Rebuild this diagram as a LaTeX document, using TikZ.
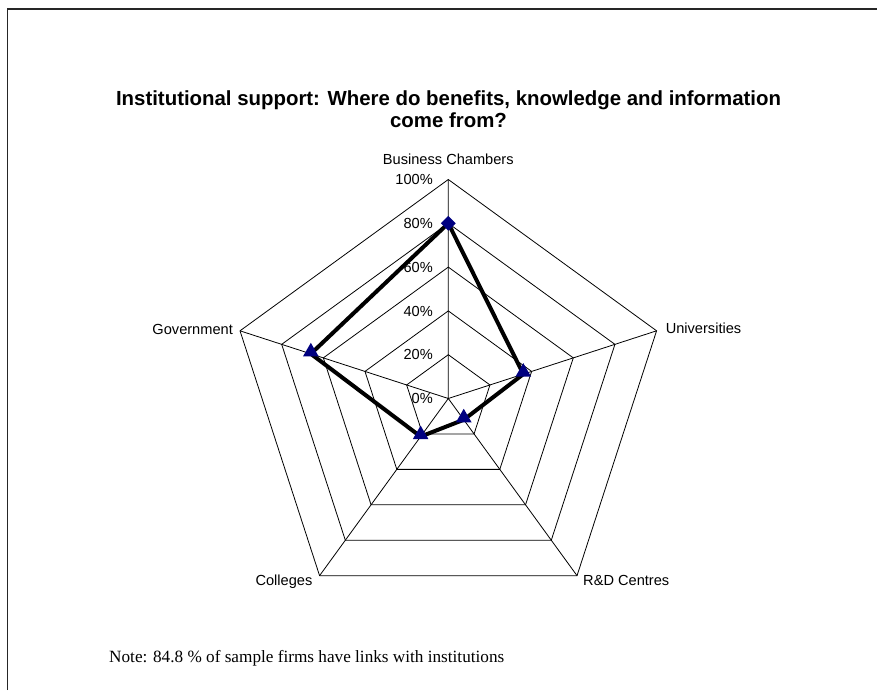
\documentclass[tikz,border=0pt]{standalone}
\usepackage{fontspec}
\setmainfont{Liberation Sans}
\newfontfamily\notefont{Liberation Serif}
\usepackage{xcolor}
\usepackage{tikz}
\usetikzlibrary{shapes.geometric}
\definecolor{navyblue}{RGB}{0,0,128}
\tikzset{%
  gridline/.style={draw=black, line width=0.8pt},
  frameline/.style={draw=black!85, line width=1.3pt},
  axislabel/.style={inner sep=0pt, font=\fontsize{14.6}{17}\selectfont},
  ticklabel/.style={anchor=base east, inner sep=0pt, xshift=-15.3pt, yshift=-5.3pt, font=\fontsize{14.6}{17}\selectfont},
  series/.style={draw=black, line width=4pt, line join=round},
  trimark/.style={regular polygon, regular polygon sides=3, fill=navyblue, inner sep=0pt, minimum size=18pt, yshift=2pt},
  diamark/.style={diamond, fill=navyblue, inner sep=0pt, minimum width=15pt, minimum height=15pt}
}

\begin{document}
\begin{tikzpicture}[x=1pt, y=1pt]
  \useasboundingbox (0,0) rectangle (877,690);
  \draw [frameline] (7.5,0) -- (7.5,681) -- (877,681);

  \node [align=center, font=\bfseries\fontsize{20.4}{22}\selectfont] (title) at (448.5,581)
        {Institutional support: Where do benefits, knowledge and information\\come from?};
  \node [anchor=west, inner sep=0pt, font=\notefont\fontsize{17.2}{20}\selectfont] (note) at (109,32)
        {Note: 84.8 \% of sample firms have links with institutions};

  \begin{scope}[shift={(448.3pt,291.5pt)}, x=2.19pt, y=2.19pt]
    % rings
    \draw [gridline] (90:20) -- (18:20) -- (-54:20) -- (-126:20) -- (162:20) -- cycle;
    \draw [gridline] (90:40) -- (18:40) -- (-54:40) -- (-126:40) -- (162:40) -- cycle;
    \draw [gridline] (90:60) -- (18:60) -- (-54:60) -- (-126:60) -- (162:60) -- cycle;
    \draw [gridline] (90:80) -- (18:80) -- (-54:80) -- (-126:80) -- (162:80) -- cycle;
    \draw [gridline] (90:100) -- (18:100) -- (-54:100) -- (-126:100) -- (162:100) -- cycle;
    % spokes
    \draw [gridline] (0,0) -- (90:100) (0,0) -- (18:100) (0,0) -- (-54:100)
                     (0,0) -- (-126:100) (0,0) -- (162:100);

    \node [ticklabel] (t0)   at (90:0)   {0\%};
    \node [ticklabel] (t20)  at (90:20)  {20\%};
    \node [ticklabel] (t40)  at (90:40)  {40\%};
    \node [ticklabel] (t60)  at (90:60)  {60\%};
    \node [ticklabel] (t80)  at (90:80)  {80\%};
    \node [ticklabel] (t100) at (90:100) {100\%};

    \node [axislabel, anchor=base, yshift=15pt]                  (bc)  at (90:100)   {Business Chambers};
    \node [axislabel, anchor=base west, xshift=9pt, yshift=-3.1pt] (uni) at (18:100)   {Universities};
    \node [axislabel, anchor=base west, xshift=6pt, yshift=-10.3pt] (rdc) at (-54:100)  {R\&D Centres};
    \node [axislabel, anchor=base east, xshift=-7pt, yshift=-10.3pt] (col) at (-126:100) {Colleges};
    \node [axislabel, anchor=base east, xshift=-7pt, yshift=-3.3pt] (gov) at (162:100)  {Government};

    % series
    \coordinate (vbc)  at (90:80);
    \coordinate (vuni) at (18:36);
    \coordinate (vrdc) at (-54:12);
    \coordinate (vcol) at (-126:21.5);
    \coordinate (vgov) at (162:66);
    \draw [series] (vbc) -- (vuni) -- (vrdc) -- (vcol) -- (vgov) -- cycle;

    \node [diamark] (mbc)  at (vbc)  {};
    \node [trimark] (muni) at (vuni) {};
    \node [trimark] (mrdc) at (vrdc) {};
    \node [trimark] (mcol) at (vcol) {};
    \node [trimark] (mgov) at (vgov) {};
  \end{scope}
\end{tikzpicture}
\end{document}
